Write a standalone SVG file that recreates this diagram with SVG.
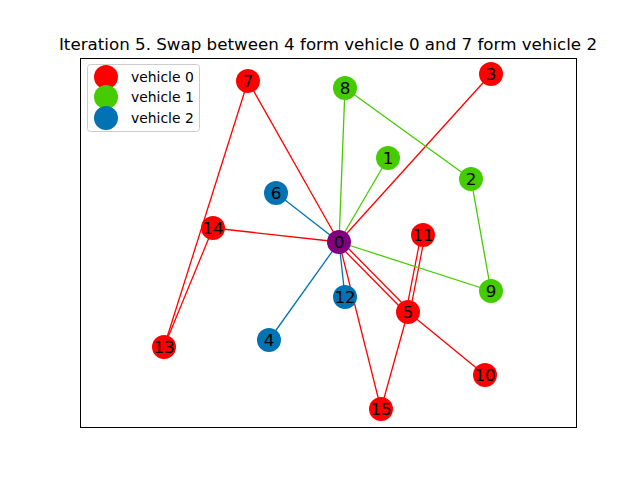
<svg xmlns="http://www.w3.org/2000/svg" width="640" height="480" viewBox="0 0 640 480">
<style>
.r{stroke:#ff0000}.g{stroke:#44cc00}.b{stroke:#0173b2}
.e line{stroke-width:1.3;fill:none}
.n circle{stroke:none}
.lbl{font-family:"DejaVu Sans",sans-serif;font-size:16.7px;fill:#000;text-anchor:middle;dominant-baseline:central}
.lg{font-family:"DejaVu Sans",sans-serif;font-size:13.9px;fill:#000}
.c0{fill:#ff0000}.c1{fill:#44cc00}.c2{fill:#0173b2}.cp{fill:#800080}
</style>
<rect width="640" height="480" fill="#fff"/>
<text x="328" y="50" font-family="DejaVu Sans, sans-serif" font-size="16.7px" text-anchor="middle">Iteration 5. Swap between 4 form vehicle 0 and 7 form vehicle 2</text>
<rect x="80.5" y="58.5" width="496" height="369" fill="none" stroke="#000" stroke-width="1"/>
<g id="connectors" class="e">
<line class="r" x1="339" y1="242" x2="248" y2="81"/>
<line class="r" x1="248" y1="81" x2="164" y2="347"/>
<line class="r" x1="164" y1="347" x2="213" y2="228"/>
<line class="r" x1="213" y1="228" x2="339" y2="242"/>
<line class="r" x1="339" y1="242" x2="491" y2="74"/>
<line class="r" x1="340" y1="240" x2="409" y2="310"/>
<line class="r" x1="338" y1="244" x2="407" y2="314"/>
<line class="r" x1="421" y1="235" x2="406" y2="312"/>
<line class="r" x1="425" y1="235" x2="410" y2="312"/>
<line class="r" x1="408" y1="312" x2="381" y2="409"/>
<line class="r" x1="381" y1="409" x2="339" y2="242"/>
<line class="r" x1="408" y1="312" x2="485" y2="375"/>
<line class="g" x1="339" y1="242" x2="345" y2="88"/>
<line class="g" x1="345" y1="88" x2="471" y2="179"/>
<line class="g" x1="471" y1="179" x2="491" y2="291"/>
<line class="g" x1="491" y1="291" x2="339" y2="242"/>
<line class="g" x1="339" y1="242" x2="388" y2="158"/>
<line class="b" x1="339" y1="242" x2="276" y2="193"/>
<line class="b" x1="339" y1="242" x2="269" y2="340"/>
<line class="b" x1="339" y1="242" x2="345" y2="297"/>
</g>
<g id="node0" class="n"><circle class="cp" cx="339" cy="242" r="12"/><text class="lbl" x="339" y="242">0</text></g>
<g id="node1" class="n"><circle class="c1" cx="388" cy="158" r="12"/><text class="lbl" x="388" y="158">1</text></g>
<g id="node2" class="n"><circle class="c1" cx="471" cy="179" r="12"/><text class="lbl" x="471" y="179">2</text></g>
<g id="node3" class="n"><circle class="c0" cx="491" cy="74" r="12"/><text class="lbl" x="491" y="74">3</text></g>
<g id="node4" class="n"><circle class="c2" cx="269" cy="340" r="12"/><text class="lbl" x="269" y="340">4</text></g>
<g id="node5" class="n"><circle class="c0" cx="408" cy="312" r="12"/><text class="lbl" x="408" y="312">5</text></g>
<g id="node6" class="n"><circle class="c2" cx="276" cy="193" r="12"/><text class="lbl" x="276" y="193">6</text></g>
<g id="node7" class="n"><circle class="c0" cx="248" cy="81" r="12"/><text class="lbl" x="248" y="81">7</text></g>
<g id="node8" class="n"><circle class="c1" cx="345" cy="88" r="12"/><text class="lbl" x="345" y="88">8</text></g>
<g id="node9" class="n"><circle class="c1" cx="491" cy="291" r="12"/><text class="lbl" x="491" y="291">9</text></g>
<g id="node10" class="n"><circle class="c0" cx="485" cy="375" r="12"/><text class="lbl" x="485" y="375">10</text></g>
<g id="node11" class="n"><circle class="c0" cx="423" cy="235" r="12"/><text class="lbl" x="423" y="235">11</text></g>
<g id="node12" class="n"><circle class="c2" cx="345" cy="297" r="12"/><text class="lbl" x="345" y="297">12</text></g>
<g id="node13" class="n"><circle class="c0" cx="164" cy="347" r="12"/><text class="lbl" x="164" y="347">13</text></g>
<g id="node14" class="n"><circle class="c0" cx="213" cy="228" r="12"/><text class="lbl" x="213" y="228">14</text></g>
<g id="node15" class="n"><circle class="c0" cx="381" cy="409" r="12"/><text class="lbl" x="381" y="409">15</text></g>
<g id="legend">
<rect x="87.5" y="64.5" width="112" height="67" rx="3" fill="#fff" fill-opacity="0.8" stroke="#cccccc" stroke-width="1"/>
<circle class="c0" cx="106" cy="77" r="12"/>
<circle class="c1" cx="106" cy="97" r="12"/>
<circle class="c2" cx="106" cy="118" r="12"/>
<text class="lg" x="131" y="82">vehicle 0</text>
<text class="lg" x="131" y="102">vehicle 1</text>
<text class="lg" x="131" y="123">vehicle 2</text>
</g>
</svg>
